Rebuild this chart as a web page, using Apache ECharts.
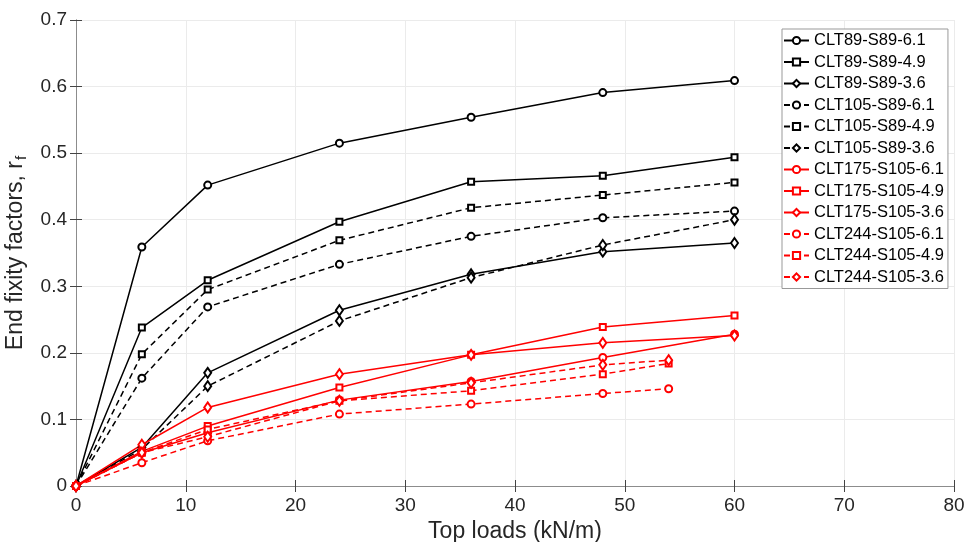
<!DOCTYPE html>
<html>
<head>
<meta charset="utf-8">
<script src="https://cdn.jsdelivr.net/npm/echarts@6/dist/echarts.min.js"></script>
<style>html,body{margin:0;padding:0;background:#fff}#c{width:967px;height:542px}</style>
</head>
<body>
<div id="c"></div>
<script>
// Top loads (kN/m)
var loadsA = [0, 6, 12, 24, 36, 48, 60];
var loadsB = [0, 6, 12, 24, 36, 48, 54];
var xTicks = [0, 10, 20, 30, 40, 50, 60, 70, 80];
var yTicks = [0, 0.1, 0.2, 0.3, 0.4, 0.5, 0.6, 0.7];

var seriesNames = [
  'CLT89-S89-6.1', 'CLT89-S89-4.9', 'CLT89-S89-3.6',
  'CLT105-S89-6.1', 'CLT105-S89-4.9', 'CLT105-S89-3.6',
  'CLT175-S105-6.1', 'CLT175-S105-4.9', 'CLT175-S105-3.6',
  'CLT244-S105-6.1', 'CLT244-S105-4.9', 'CLT244-S105-3.6'
];
var clt89_61  = [0, 0.359, 0.452, 0.515, 0.554, 0.591, 0.609];
var clt89_49  = [0, 0.238, 0.309, 0.397, 0.457, 0.466, 0.494];
var clt89_36  = [0, 0.058, 0.170, 0.264, 0.318, 0.352, 0.365];
var clt105_61 = [0, 0.162, 0.269, 0.333, 0.375, 0.403, 0.413];
var clt105_49 = [0, 0.198, 0.295, 0.369, 0.418, 0.437, 0.456];
var clt105_36 = [0, 0.055, 0.150, 0.248, 0.313, 0.362, 0.400];
var clt175_61 = [0, 0.050, 0.080, 0.129, 0.157, 0.193, 0.228];
var clt175_49 = [0, 0.052, 0.090, 0.148, 0.197, 0.239, 0.256];
var clt175_36 = [0, 0.062, 0.118, 0.168, 0.197, 0.215, 0.226];
var clt244_61 = [0, 0.035, 0.068, 0.108, 0.123, 0.139, 0.146];
var clt244_49 = [0, 0.050, 0.085, 0.128, 0.143, 0.168, 0.184];
var clt244_36 = [0, 0.050, 0.074, 0.128, 0.155, 0.182, 0.189];

var values = [clt89_61, clt89_49, clt89_36, clt105_61, clt105_49, clt105_36,
              clt175_61, clt175_49, clt175_36, clt244_61, clt244_49, clt244_36];
var xsets = [loadsA, loadsA, loadsA, loadsA, loadsA, loadsA,
             loadsA, loadsA, loadsA, loadsB, loadsB, loadsB];
var colors = ['#000', '#000', '#000', '#000', '#000', '#000',
              '#ff0000', '#ff0000', '#ff0000', '#ff0000', '#ff0000', '#ff0000'];
var dashed = [false, false, false, true, true, true, false, false, false, true, true, true];
var symbols = ['emptyCircle', 'emptyRect', 'emptyDiamond'];
var symSizes = [7, 6, [7, 10]];

function zip(xs, ys) { return xs.map(function (x, i) { return [x, ys[i]]; }); }

var series = seriesNames.map(function (name, i) {
  return {
    name: name,
    type: 'line',
    data: zip(xsets[i], values[i]),
    symbol: symbols[i % 3],
    symbolSize: symSizes[i % 3],
    showAllSymbol: true,
    color: colors[i],
    lineStyle: { color: colors[i], width: 1.5, type: dashed[i] ? [6, 4] : 'solid' },
    itemStyle: { color: colors[i], borderColor: colors[i], borderWidth: 1.2 },
    emphasis: { disabled: true },
    animation: false,
    z: 2
  };
});

var FONT = 'Liberation Sans, Arial, sans-serif';
var axisColor = '#8c8c8c';
var chart = echarts.init(document.getElementById('c'));
chart.setOption({
  animation: false,
  grid: { left: 76, right: 13, top: 20, bottom: 56, outerBoundsMode: 'none', containLabel: false },
  legend: {
    orient: 'vertical', left: 782, top: 29,
    padding: [3, 4, 3, 1],
    itemWidth: 25, itemHeight: 9, itemGap: 4.5, itemTextGap: 2,
    backgroundColor: '#fff', borderColor: '#999', borderWidth: 1,
    textStyle: { fontFamily: FONT, fontSize: 16.5, color: '#000', lineHeight: 17 },
    data: seriesNames
  },
  xAxis: [{
    type: 'value', min: xTicks[0], max: xTicks[xTicks.length - 1], interval: 10,
    name: 'Top loads (kN/m)', nameLocation: 'middle', nameGap: 32,
    nameTextStyle: { fontFamily: FONT, fontSize: 23, color: '#262626' },
    axisLine: { show: true, lineStyle: { color: axisColor, width: 1 } },
    axisTick: { show: true, inside: true, length: 6, lineStyle: { color: '#444' } },
    axisLabel: { fontFamily: FONT, fontSize: 19, color: '#262626', margin: 10 },
    splitLine: { show: true, lineStyle: { color: '#ebebeb', width: 1 } }
  }, {
    type: 'value', position: 'top', min: 0, max: 80, interval: 10,
    axisLine: { show: true, lineStyle: { color: axisColor, width: 1 } },
    axisTick: { show: true, inside: true, length: 6, lineStyle: { color: '#444' } },
    axisLabel: { show: false }, splitLine: { show: false }
  }],
  yAxis: [{
    type: 'value', min: yTicks[0], max: yTicks[yTicks.length - 1], interval: 0.1,
    name: '{a|End fixity factors, r}{s|f}', nameLocation: 'middle', nameGap: 37,
    nameTextStyle: {
      fontFamily: FONT, fontSize: 23, color: '#262626',
      rich: {
        a: { fontFamily: FONT, fontSize: 23, color: '#262626' },
        s: { fontFamily: FONT, fontSize: 15, color: '#262626', padding: [14, 0, 0, 1] }
      }
    },
    axisLine: { show: true, lineStyle: { color: axisColor, width: 1 } },
    axisTick: { show: true, inside: true, length: 6, lineStyle: { color: '#444' } },
    axisLabel: { fontFamily: FONT, fontSize: 19, color: '#262626', margin: 9,
      formatter: function (v) { return v === 0 ? '0' : v.toFixed(1); } },
    splitLine: { show: true, lineStyle: { color: '#ebebeb', width: 1 } }
  }, {
    type: 'value', position: 'right', min: 0, max: 0.7, interval: 0.1,
    axisLine: { show: true, lineStyle: { color: axisColor, width: 1 } },
    axisTick: { show: true, inside: true, length: 6, lineStyle: { color: '#444' } },
    axisLabel: { show: false }, splitLine: { show: false }
  }],
  series: series
});
</script>
</body>
</html>
